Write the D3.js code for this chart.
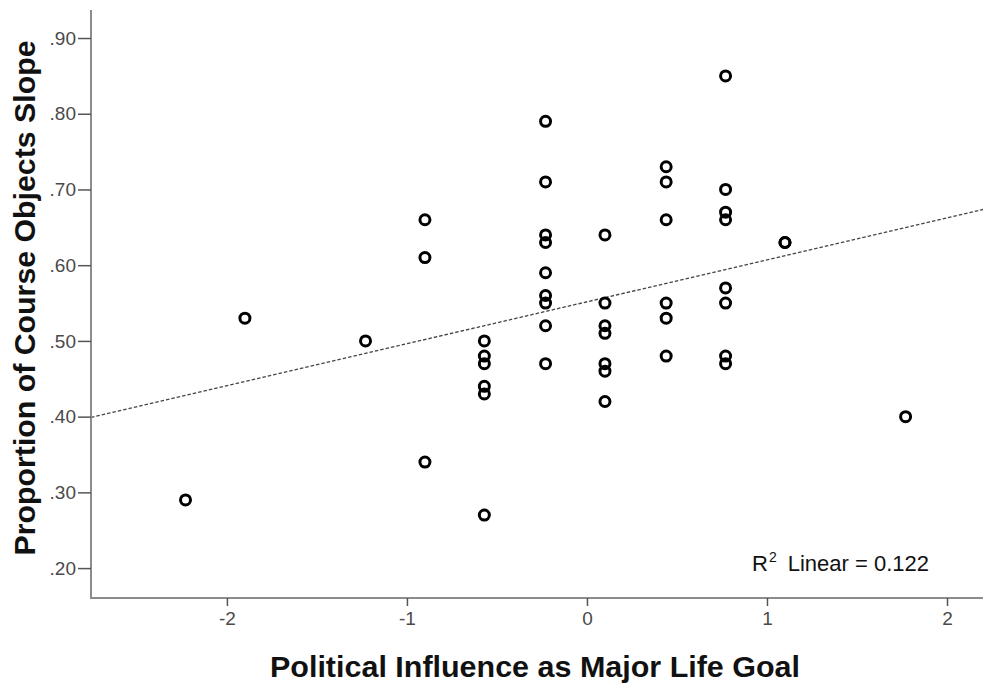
<!DOCTYPE html>
<html>
<head>
<meta charset="utf-8">
<script src="https://cdn.jsdelivr.net/npm/d3@7"></script>
<style>
  html, body { margin: 0; padding: 0; background: #fff; }
  svg { display: block; }
  text { font-family: "Liberation Sans", Arial, sans-serif; }
</style>
</head>
<body>
<svg id="chart" width="983" height="685"></svg>
<script>
// Political influence as a life goal (x) against course-object slope proportion (y)
const xValues = [
  -2.23, -1.90, -1.23,
  -0.90, -0.90, -0.90,
  -0.57, -0.57, -0.57, -0.57, -0.57, -0.57,
  -0.23, -0.23, -0.23, -0.23, -0.23, -0.23, -0.23, -0.23, -0.23,
  0.10, 0.10, 0.10, 0.10, 0.10, 0.10, 0.10,
  0.44, 0.44, 0.44, 0.44, 0.44, 0.44,
  0.77, 0.77, 0.77, 0.77, 0.77, 0.77, 0.77, 0.77,
  1.10, 1.10,
  1.77
];
const yValues = [
  0.29, 0.53, 0.50,
  0.66, 0.61, 0.34,
  0.50, 0.48, 0.47, 0.44, 0.43, 0.27,
  0.79, 0.71, 0.64, 0.63, 0.59, 0.56, 0.55, 0.52, 0.47,
  0.64, 0.55, 0.52, 0.51, 0.47, 0.46, 0.42,
  0.73, 0.71, 0.66, 0.55, 0.53, 0.48,
  0.85, 0.70, 0.67, 0.66, 0.57, 0.55, 0.48, 0.47,
  0.63, 0.63,
  0.40
];
const xTicks = [-2, -1, 0, 1, 2];
const yTicks = [0.20, 0.30, 0.40, 0.50, 0.60, 0.70, 0.80, 0.90];
const xTitle = "Political Influence as Major Life Goal";
const yTitle = "Proportion of Course Objects Slope";
const fitLabel = "Linear = 0.122";

const points = xValues.map((x, i) => ({ x, y: yValues[i] }));

const svg = d3.select("#chart");
const plotLeft = 91, plotRight = 983, plotTop = 10, plotBottom = 598;

const x = d3.scaleLinear().domain([-2.755, 2.2]).range([plotLeft, plotRight]);
const y = d3.scaleLinear().domain([0.1605, 0.937]).range([plotBottom, plotTop]);

const axisColor = "#8c8c8c";
const tickText = "#4a4a4a";

// Least-squares fit line over the data
const mx = d3.mean(points, d => d.x), my = d3.mean(points, d => d.y);
const sxy = d3.sum(points, d => (d.x - mx) * (d.y - my));
const sxx = d3.sum(points, d => (d.x - mx) ** 2);
const slope = sxy / sxx, intercept = my - slope * mx;
const xd = x.domain();

svg.append("line")
  .attr("x1", x(xd[0])).attr("y1", y(intercept + slope * xd[0]))
  .attr("x2", x(xd[1])).attr("y2", y(intercept + slope * xd[1]))
  .attr("stroke", "#444").attr("stroke-width", 1.3)
  .attr("stroke-dasharray", "3.5,2");

// Axes
const yAxis = svg.append("g")
  .attr("transform", `translate(${plotLeft},0)`)
  .call(d3.axisLeft(y).tickValues(yTicks).tickSize(13).tickPadding(2)
    .tickFormat(d => d3.format(".2f")(d).replace(/^0/, "")));
const xAxis = svg.append("g")
  .attr("transform", `translate(0,${plotBottom})`)
  .call(d3.axisBottom(x).tickValues(xTicks).tickSize(8).tickPadding(6)
    .tickFormat(d => String(d)));

[yAxis, xAxis].forEach(g => {
  g.select(".domain").attr("stroke", axisColor).attr("stroke-width", 2);
  g.selectAll(".tick line").attr("stroke", "#555").attr("stroke-width", 1.5);
  g.selectAll(".tick text")
    .attr("fill", tickText)
    .style("font-family", "'Liberation Sans', Arial, sans-serif")
    .style("font-size", "19px");
});
// y-axis line runs the full height; x-axis line runs to the right edge
yAxis.select(".domain").attr("d", `M0,${plotTop}V${plotBottom + 1}`);
xAxis.select(".domain").attr("d", `M${plotLeft - 1},0H${plotRight}`);

// Markers
svg.append("g").selectAll("circle")
  .data(points)
  .join("circle")
  .attr("cx", d => x(d.x))
  .attr("cy", d => y(d.y))
  .attr("r", 5)
  .attr("fill", "none")
  .attr("stroke", "#000")
  .attr("stroke-width", 3);

// Fit annotation
const ann = svg.append("text")
  .attr("x", 752).attr("y", 571)
  .attr("fill", "#111")
  .style("font-size", "22px");
ann.append("tspan").text("R");
ann.append("tspan").attr("dx", 1).attr("dy", -9).style("font-size", "14px").text("2");
ann.append("tspan").attr("dx", 11).attr("dy", 9).text(fitLabel);

// Axis titles
svg.append("text")
  .attr("x", 535).attr("y", 677)
  .attr("text-anchor", "middle")
  .attr("fill", "#111")
  .attr("textLength", 530).attr("lengthAdjust", "spacingAndGlyphs")
  .style("font-size", "29px").style("font-weight", "bold")
  .text(xTitle);

svg.append("text")
  .attr("transform", `translate(35,298) rotate(-90)`)
  .attr("text-anchor", "middle")
  .attr("fill", "#111")
  .attr("textLength", 515).attr("lengthAdjust", "spacingAndGlyphs")
  .style("font-size", "29px").style("font-weight", "bold")
  .text(yTitle);
</script>
</body>
</html>
